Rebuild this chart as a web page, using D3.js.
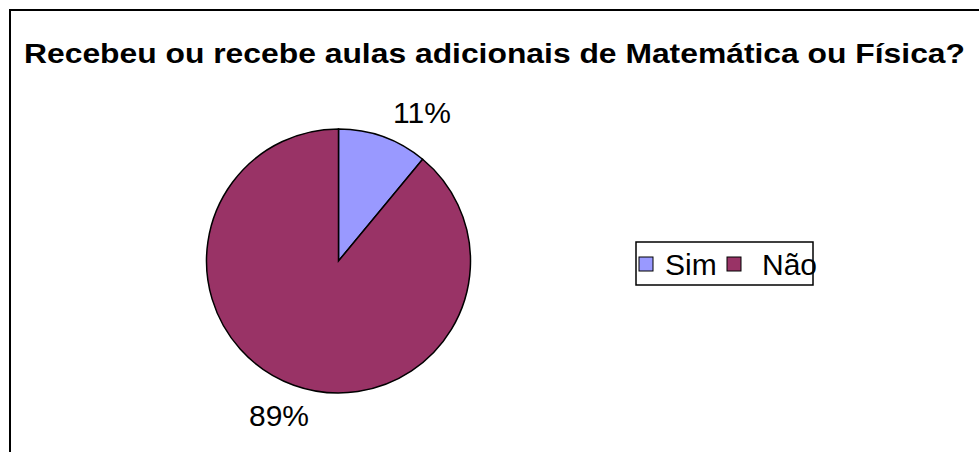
<!DOCTYPE html>
<html>
<head>
<meta charset="utf-8">
<script src="https://cdn.jsdelivr.net/npm/d3@7"></script>
<style>
  body { margin: 0; background: #fff; }
  svg { display: block; font-family: Arial, "Liberation Sans", sans-serif; }
</style>
</head>
<body>
<div id="chart-area"></div>
<script>
const categories = ["Sim", "Não"];
const values = [11, 89];
const labels = ["11%", "89%"];
const colors = ["#9999FF", "#993366"];

const width = 979, height = 452;
const cx = 338.5, cy = 261, radius = 132;

let svg = d3.select("#chart-area")
  .append("svg")
  .attr("width", width)
  .attr("height", height);

// outer frame (right and bottom sides run off the picture)
svg.append("rect")
  .attr("x", 10).attr("y", 10)
  .attr("width", width + 20).attr("height", height + 20)
  .attr("fill", "#fff")
  .attr("stroke", "#000")
  .attr("stroke-width", 2);

svg.append("text")
  .attr("x", 24)
  .attr("y", 63)
  .attr("textLength", 941)
  .attr("lengthAdjust", "spacingAndGlyphs")
  .style("font-size", "27.5px")
  .style("font-weight", "bold")
  .text("Recebeu ou recebe aulas adicionais de Matemática ou Física?");

let data = categories.map((c, i) => ({ cat: c, value: values[i], label: labels[i], color: colors[i] }));

let pie = d3.pie().sort(null).value(d => d.value);
let arc = d3.arc().innerRadius(0).outerRadius(radius);
let labelArc = d3.arc().innerRadius(radius + 29).outerRadius(radius + 29);

let g = svg.append("g").attr("transform", "translate(" + cx + "," + cy + ")");
let arcs = pie(data);

g.selectAll("path")
  .data(arcs)
  .enter()
  .append("path")
  .attr("d", arc)
  .attr("fill", d => d.data.color)
  .attr("stroke", "#000")
  .attr("stroke-width", 1.5);

// percentage labels: right-hand ones start at the point, others centred
g.selectAll(".pct")
  .data(arcs)
  .enter()
  .append("text")
  .attr("class", "pct")
  .attr("transform", d => {
    let p = labelArc.centroid(d);
    return "translate(" + p[0] + "," + p[1] + ")";
  })
  .attr("text-anchor", d => labelArc.centroid(d)[0] > 0 ? "start" : "middle")
  .attr("dx", d => labelArc.centroid(d)[0] > 0 ? 0 : -5)
  .attr("dy", "0.45em")
  .style("font-size", "30px")
  .text(d => d.data.label);

// legend
let legend = svg.append("g").attr("transform", "translate(636,242)");
legend.append("rect")
  .attr("width", 177).attr("height", 43)
  .attr("fill", "none")
  .attr("stroke", "#000")
  .attr("stroke-width", 1.5);

let xs = [3, 91];
let items = legend.selectAll(".item")
  .data(data)
  .enter()
  .append("g")
  .attr("transform", (d, i) => "translate(" + xs[i] + ",0)");
items.append("rect")
  .attr("x", 0).attr("y", 15)
  .attr("width", 14).attr("height", 14)
  .attr("fill", d => d.color)
  .attr("stroke", "#000")
  .attr("stroke-width", 1);
items.append("text")
  .attr("x", (d, i) => i === 0 ? 26 : 35)
  .attr("y", 33)
  .style("font-size", "30px")
  .text(d => d.cat);
</script>
</body>
</html>
